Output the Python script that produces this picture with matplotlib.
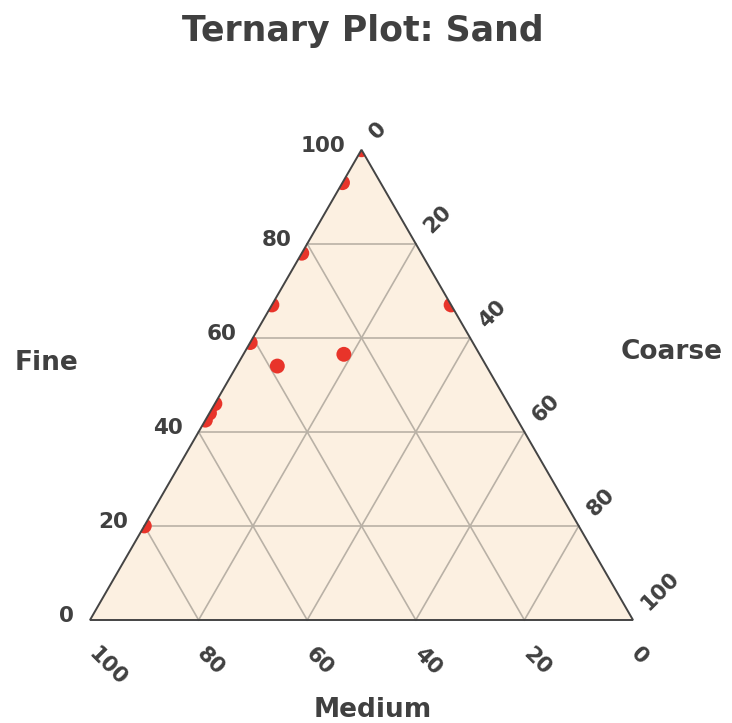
"""Ternary plot of sand fractions (fine / medium / coarse)."""

import numpy as np
import matplotlib
matplotlib.use("Agg")
import matplotlib.pyplot as plt
from matplotlib.patches import Polygon

# sample composition in percent (medium = 100 - fine - coarse)
fine = [100, 93, 78, 67, 59, 54, 56.5, 67, 46, 44, 42.5, 20]
coarse = [0, 0, 0, 0, 0, 7.5, 18.5, 33, 0, 0, 0, 0]
medium = [100 - f - c for f, c in zip(fine, coarse)]

grid_values = [20, 40, 60, 80]
tick_values = [0, 20, 40, 60, 80, 100]

TEXT = "#404040"
FILL = "#fcf0e1"
GRID = "#b9b1a6"
EDGE = "#444444"
RED = "#e8342a"
H = np.sqrt(3) / 2


def to_xy(f, c):
    """fine -> top vertex, coarse -> bottom right, medium -> bottom left."""
    f = np.asarray(f, dtype=float)
    c = np.asarray(c, dtype=float)
    return c + f / 2, f * H


fig = plt.figure(figsize=(7.32, 7.23), dpi=100)
ax = fig.add_axes([0, 0, 1, 1])
ax.set_xlim(-90 / 5.43, (732 - 90) / 5.43)
ax.set_ylim(-103 / 5.43, (723 - 103) / 5.43)
ax.axis("off")

tri = Polygon([(0, 0), (100, 0), (50, 100 * H)], closed=True,
              facecolor=FILL, edgecolor="none", zorder=1)
ax.add_patch(tri)

# grid lines
for v in grid_values:
    # constant fine
    x, y = to_xy([v, v], [0, 100 - v])
    ax.plot(x, y, color=GRID, lw=1.2, zorder=2)
    # constant coarse
    x, y = to_xy([0, 100 - v], [v, v])
    ax.plot(x, y, color=GRID, lw=1.2, zorder=2)
    # constant medium
    x, y = to_xy([0, 100 - v], [100 - v, 0])
    ax.plot(x, y, color=GRID, lw=1.2, zorder=2)

edge = Polygon([(0, 0), (100, 0), (50, 100 * H)], closed=True,
               facecolor="none", edgecolor=EDGE, lw=1.4, zorder=5)
ax.add_patch(edge)

# data points, clipped to the triangle
px, py = to_xy(fine, coarse)
pts = ax.scatter(px, py, s=115, color=RED, edgecolors="none", zorder=4)
pts.set_clip_path(tri)

tick_kw = dict(fontsize=15.5, fontweight="bold", color=TEXT)

# fine ticks (left edge)
for v in tick_values:
    x, y = to_xy(v, 0)
    ax.text(x - 2.95, y + 0.75, str(v), ha="right", va="center", **tick_kw)

# coarse ticks (right edge)
for v in tick_values:
    x, y = to_xy(100 - v, v)
    ax.text(x + 2.1, y + 2.5, str(v), ha="left", va="center", rotation=45,
            rotation_mode="anchor", **tick_kw)

# medium ticks (bottom edge)
for v in tick_values:
    x, y = to_xy(0, 100 - v)
    ax.text(x + 0.3, y - 5.6, str(v), ha="left", va="center", rotation=-45,
            rotation_mode="anchor", **tick_kw)

label_kw = dict(fontsize=19, fontweight="bold", color=TEXT, ha="center", va="center")
ax.text(-8.1, 47.3, "Fine", **label_kw)
ax.text(107.2, 49.4, "Coarse", **label_kw)
ax.text(52.1, -16.6, "Medium", **label_kw)

ax.text(50.3, 108.4, "Ternary Plot: Sand", fontsize=25, fontweight="bold",
        color=TEXT, ha="center", va="center")

fig.savefig("out.png", dpi=100)
